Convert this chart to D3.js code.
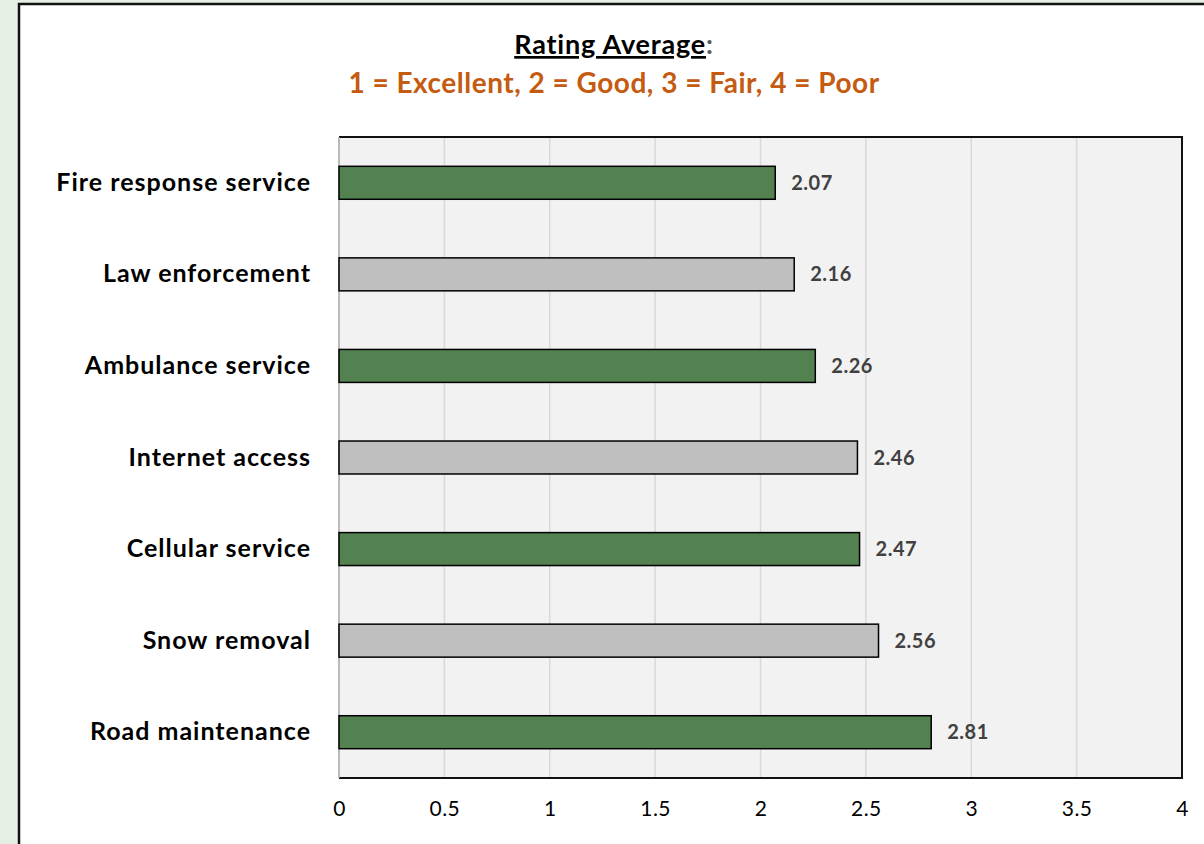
<!DOCTYPE html>
<html>
<head>
<meta charset="utf-8">
<script src="https://cdn.jsdelivr.net/npm/d3@7"></script>
<style>
  html, body { margin: 0; padding: 0; background: #e6efe3; }
  svg { display: block; }
</style>
</head>
<body>
<div id="chart"></div>
<script>
// data
const categories = ['Fire response service', 'Law enforcement', 'Ambulance service',
  'Internet access', 'Cellular service', 'Snow removal', 'Road maintenance'];
const values = [2.07, 2.16, 2.26, 2.46, 2.47, 2.56, 2.81];
const barColors = ['#548150', '#bfbfbf', '#548150', '#bfbfbf', '#548150', '#bfbfbf', '#548150'];
const xTicks = [0, 0.5, 1, 1.5, 2, 2.5, 3, 3.5, 4];
const titleText = 'Rating Average';
const subtitleText = '1 = Excellent, 2 = Good, 3 = Fair, 4 = Poor';

const W = 1204, H = 844;
const margin = { top: 137, right: 22, bottom: 66, left: 339 };
const width = W - margin.left - margin.right,
  height = H - margin.top - margin.bottom;
const font = 'Lato, "Open Sans", sans-serif';

const svg = d3.select('#chart').append('svg')
  .attr('width', W)
  .attr('height', H);

// chart frame
svg.append('rect')
  .attr('x', 19).attr('y', 4)
  .attr('width', W + 10).attr('height', H + 10)
  .attr('fill', '#fff')
  .attr('stroke', '#111')
  .attr('stroke-width', 2.5);

// titles
const title = svg.append('text')
  .attr('x', 614).attr('y', 54)
  .attr('text-anchor', 'middle')
  .style('font-family', font)
  .style('font-weight', 'bold')
  .style('font-size', '27px')
  .style('letter-spacing', '0.8px');
title.append('tspan').attr('fill', '#000')
  .style('text-decoration', 'underline')
  .text(titleText);
title.append('tspan').attr('fill', '#595959').text(':');

svg.append('text')
  .attr('x', 614).attr('y', 93)
  .attr('text-anchor', 'middle')
  .attr('fill', '#c55a11')
  .style('font-family', font)
  .style('font-weight', 'bold')
  .style('font-size', '28px')
  .style('letter-spacing', '0.5px')
  .text(subtitleText);

const g = svg.append('g')
  .attr('transform', 'translate(' + margin.left + ',' + margin.top + ')');

const xScale = d3.scaleLinear().domain([0, 4]).range([0, width]);
const yScale = d3.scaleBand().domain(categories).range([0, height]).paddingInner(0.64).paddingOuter(0.32);

// plot background
g.append('rect')
  .attr('width', width).attr('height', height)
  .attr('fill', '#f2f2f2');

// gridlines
g.append('g')
  .selectAll('line')
  .data(xTicks.filter(d => d > 0 && d < 4))
  .enter()
  .append('line')
  .attr('x1', d => xScale(d)).attr('x2', d => xScale(d))
  .attr('y1', 0).attr('y2', height)
  .attr('stroke', '#d9d9d9')
  .attr('stroke-width', 1.5);

// plot border (top, right, bottom)
g.append('path')
  .attr('d', 'M0,0H' + width + 'V' + height + 'H0')
  .attr('fill', 'none')
  .attr('stroke', '#111')
  .attr('stroke-width', 2);
g.append('line')
  .attr('x1', 0).attr('x2', 0).attr('y1', 0).attr('y2', height)
  .attr('stroke', '#a6a6a6')
  .attr('stroke-width', 1.5);

// x axis
const xAxis = d3.axisBottom(xScale).tickValues(xTicks).tickSize(0).tickPadding(23)
  .tickFormat(d3.format('~g'));
const xg = g.append('g')
  .attr('transform', 'translate(0,' + height + ')')
  .call(xAxis);
xg.select('.domain').remove();
xg.selectAll('text')
  .style('font-family', font)
  .style('font-size', '21px')
  .style('letter-spacing', '0.5px')
  .attr('fill', '#000');

// y axis
const yAxis = d3.axisLeft(yScale).tickSize(0).tickPadding(28);
const yg = g.append('g').call(yAxis);
yg.select('.domain').remove();
yg.selectAll('text')
  .style('font-family', font)
  .style('font-weight', 'bold')
  .style('font-size', '25px')
  .style('letter-spacing', '1px')
  .attr('fill', '#000');

// bars
g.selectAll('.bar')
  .data(values)
  .enter()
  .append('rect')
  .attr('class', 'bar')
  .attr('x', 0)
  .attr('y', (d, i) => yScale(categories[i]))
  .attr('width', d => xScale(d))
  .attr('height', yScale.bandwidth())
  .attr('fill', (d, i) => barColors[i])
  .attr('stroke', '#000')
  .attr('stroke-width', 1.5);

// value labels
g.selectAll('.lbl')
  .data(values)
  .enter()
  .append('text')
  .attr('class', 'lbl')
  .attr('x', d => xScale(d) + 16)
  .attr('y', (d, i) => yScale(categories[i]) + yScale.bandwidth() / 2)
  .attr('dy', '0.35em')
  .attr('fill', '#404040')
  .style('font-family', font)
  .style('font-weight', 'bold')
  .style('font-size', '20px')
  .style('letter-spacing', '0.5px')
  .text(d => d3.format('.2f')(d));
</script>
</body>
</html>
